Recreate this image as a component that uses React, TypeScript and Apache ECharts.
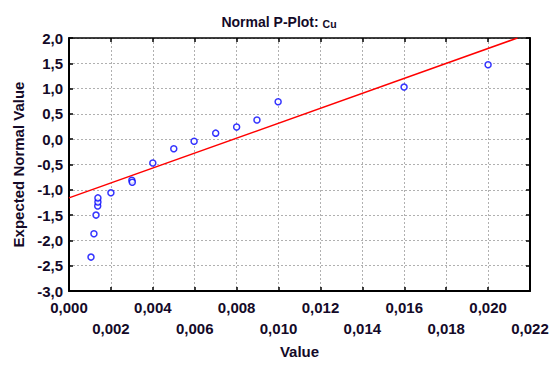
import React, { useEffect, useRef } from "react";
import * as echarts from "echarts";

const cuValues = [
  0.00105, 0.00119, 0.00129, 0.00137, 0.00138, 0.00138, 0.0020, 0.0030, 0.00302,
  0.0040, 0.0050, 0.00597, 0.0070, 0.0080, 0.00897, 0.00998, 0.01599, 0.0200,
];
const expectedNormal = [
  -2.33, -1.87, -1.5, -1.32, -1.24, -1.16, -1.06, -0.81, -0.85,
  -0.47, -0.19, -0.04, 0.12, 0.24, 0.38, 0.74, 1.03, 1.47,
];
// Reference (fitted) line endpoints
const fitLineX = [0.0, 0.0214];
const fitLineY = [-1.16, 2.0];

const xMin = 0;
const xMax = 0.022;
const xStep = 0.002;
const yMin = -3;
const yMax = 2;
const yStep = 0.5;

const TEXT = "#140a28";
const FONT = "'Liberation Sans', Arial, sans-serif";

export default function App() {
  const ref = useRef<HTMLDivElement>(null);
  useEffect(() => {
    if (!ref.current) return;
    const chart = echarts.init(ref.current, undefined, { renderer: "svg" });
    const gridLine = { show: true, lineStyle: { color: "#b0b0b0", type: [2, 2] as any, width: 1 } };
    const border = { show: true, onZero: false, lineStyle: { color: "#000", width: 2 } };
    const tick = { show: true, inside: true, length: 4, lineStyle: { color: "#000", width: 1.5 } };
    chart.setOption({
      animation: false,
      backgroundColor: "#fff",
      title: {
        text: "{main|Normal P-Plot: }{cu|Cu}",
        left: "center",
        top: 8,
        textStyle: {
          fontFamily: FONT,
          fontSize: 14,
          fontWeight: "bold",
          color: TEXT,
          rich: {
            main: { fontFamily: FONT, fontSize: 14, fontWeight: "bold", color: TEXT, lineHeight: 16, verticalAlign: "bottom" },
            cu: { fontFamily: FONT, fontSize: 10.5, fontWeight: "bold", color: TEXT, lineHeight: 16, verticalAlign: "bottom" },
          },
        },
      },
      grid: { left: 69, right: 28, top: 38, bottom: 76, containLabel: false },
      xAxis: [
        {
          type: "value",
          min: xMin,
          max: xMax,
          interval: xStep,
          position: "bottom",
          name: "Value",
          nameLocation: "middle",
          nameGap: 52,
          nameTextStyle: { fontFamily: FONT, fontSize: 15, fontWeight: "bold", color: TEXT },
          axisLine: border,
          axisTick: tick,
          splitLine: gridLine,
          axisLabel: {
            interval: 0,
            margin: 6,
            lineHeight: 21,
            fontFamily: FONT,
            fontSize: 15,
            fontWeight: "bold",
            color: TEXT,
            showMinLabel: true,
            showMaxLabel: true,
            hideOverlap: false,
            formatter: (v: number, i: number) => {
              const s = v.toFixed(3).replace(".", ",");
              return i % 2 === 1 ? "\n" + s : s;
            },
          },
        },
        {
          type: "value",
          min: xMin,
          max: xMax,
          interval: xStep,
          position: "top",
          axisLine: { ...border, lineStyle: { color: "#000", width: 1.5 } },
          axisTick: tick,
          axisLabel: { show: false },
          splitLine: { show: false },
        },
      ],
      yAxis: [
        {
          type: "value",
          min: yMin,
          max: yMax,
          interval: yStep,
          position: "left",
          name: "Expected Normal Value",
          nameLocation: "middle",
          nameGap: 42,
          nameTextStyle: { fontFamily: FONT, fontSize: 15, fontWeight: "bold", color: TEXT },
          axisLine: border,
          axisTick: tick,
          splitLine: gridLine,
          axisLabel: {
            margin: 6,
            fontFamily: FONT,
            fontSize: 15,
            fontWeight: "bold",
            color: TEXT,
            showMinLabel: true,
            showMaxLabel: true,
            formatter: (v: number) => v.toFixed(1).replace(".", ","),
          },
        },
        {
          type: "value",
          min: yMin,
          max: yMax,
          interval: yStep,
          position: "right",
          axisLine: border,
          axisTick: tick,
          axisLabel: { show: false },
          splitLine: { show: false },
        },
      ],
      series: [
        {
          type: "line",
          data: fitLineX.map((x, i) => [x, fitLineY[i]]),
          showSymbol: false,
          symbol: "none",
          lineStyle: { color: "#ff0000", width: 1.5 },
          z: 2,
        },
        {
          type: "scatter",
          data: cuValues.map((x, i) => [x, expectedNormal[i]]),
          symbol: "circle",
          symbolSize: 6,
          itemStyle: { color: "#ffffff", borderColor: "#0000ff", borderWidth: 1.5 },
          z: 3,
        },
      ],
    });
    return () => chart.dispose();
  }, []);
  return (
    <div
      ref={ref}
      style={{ position: "absolute", left: 0, top: 0, width: 558, height: 367, background: "#fff" }}
    />
  );
}
